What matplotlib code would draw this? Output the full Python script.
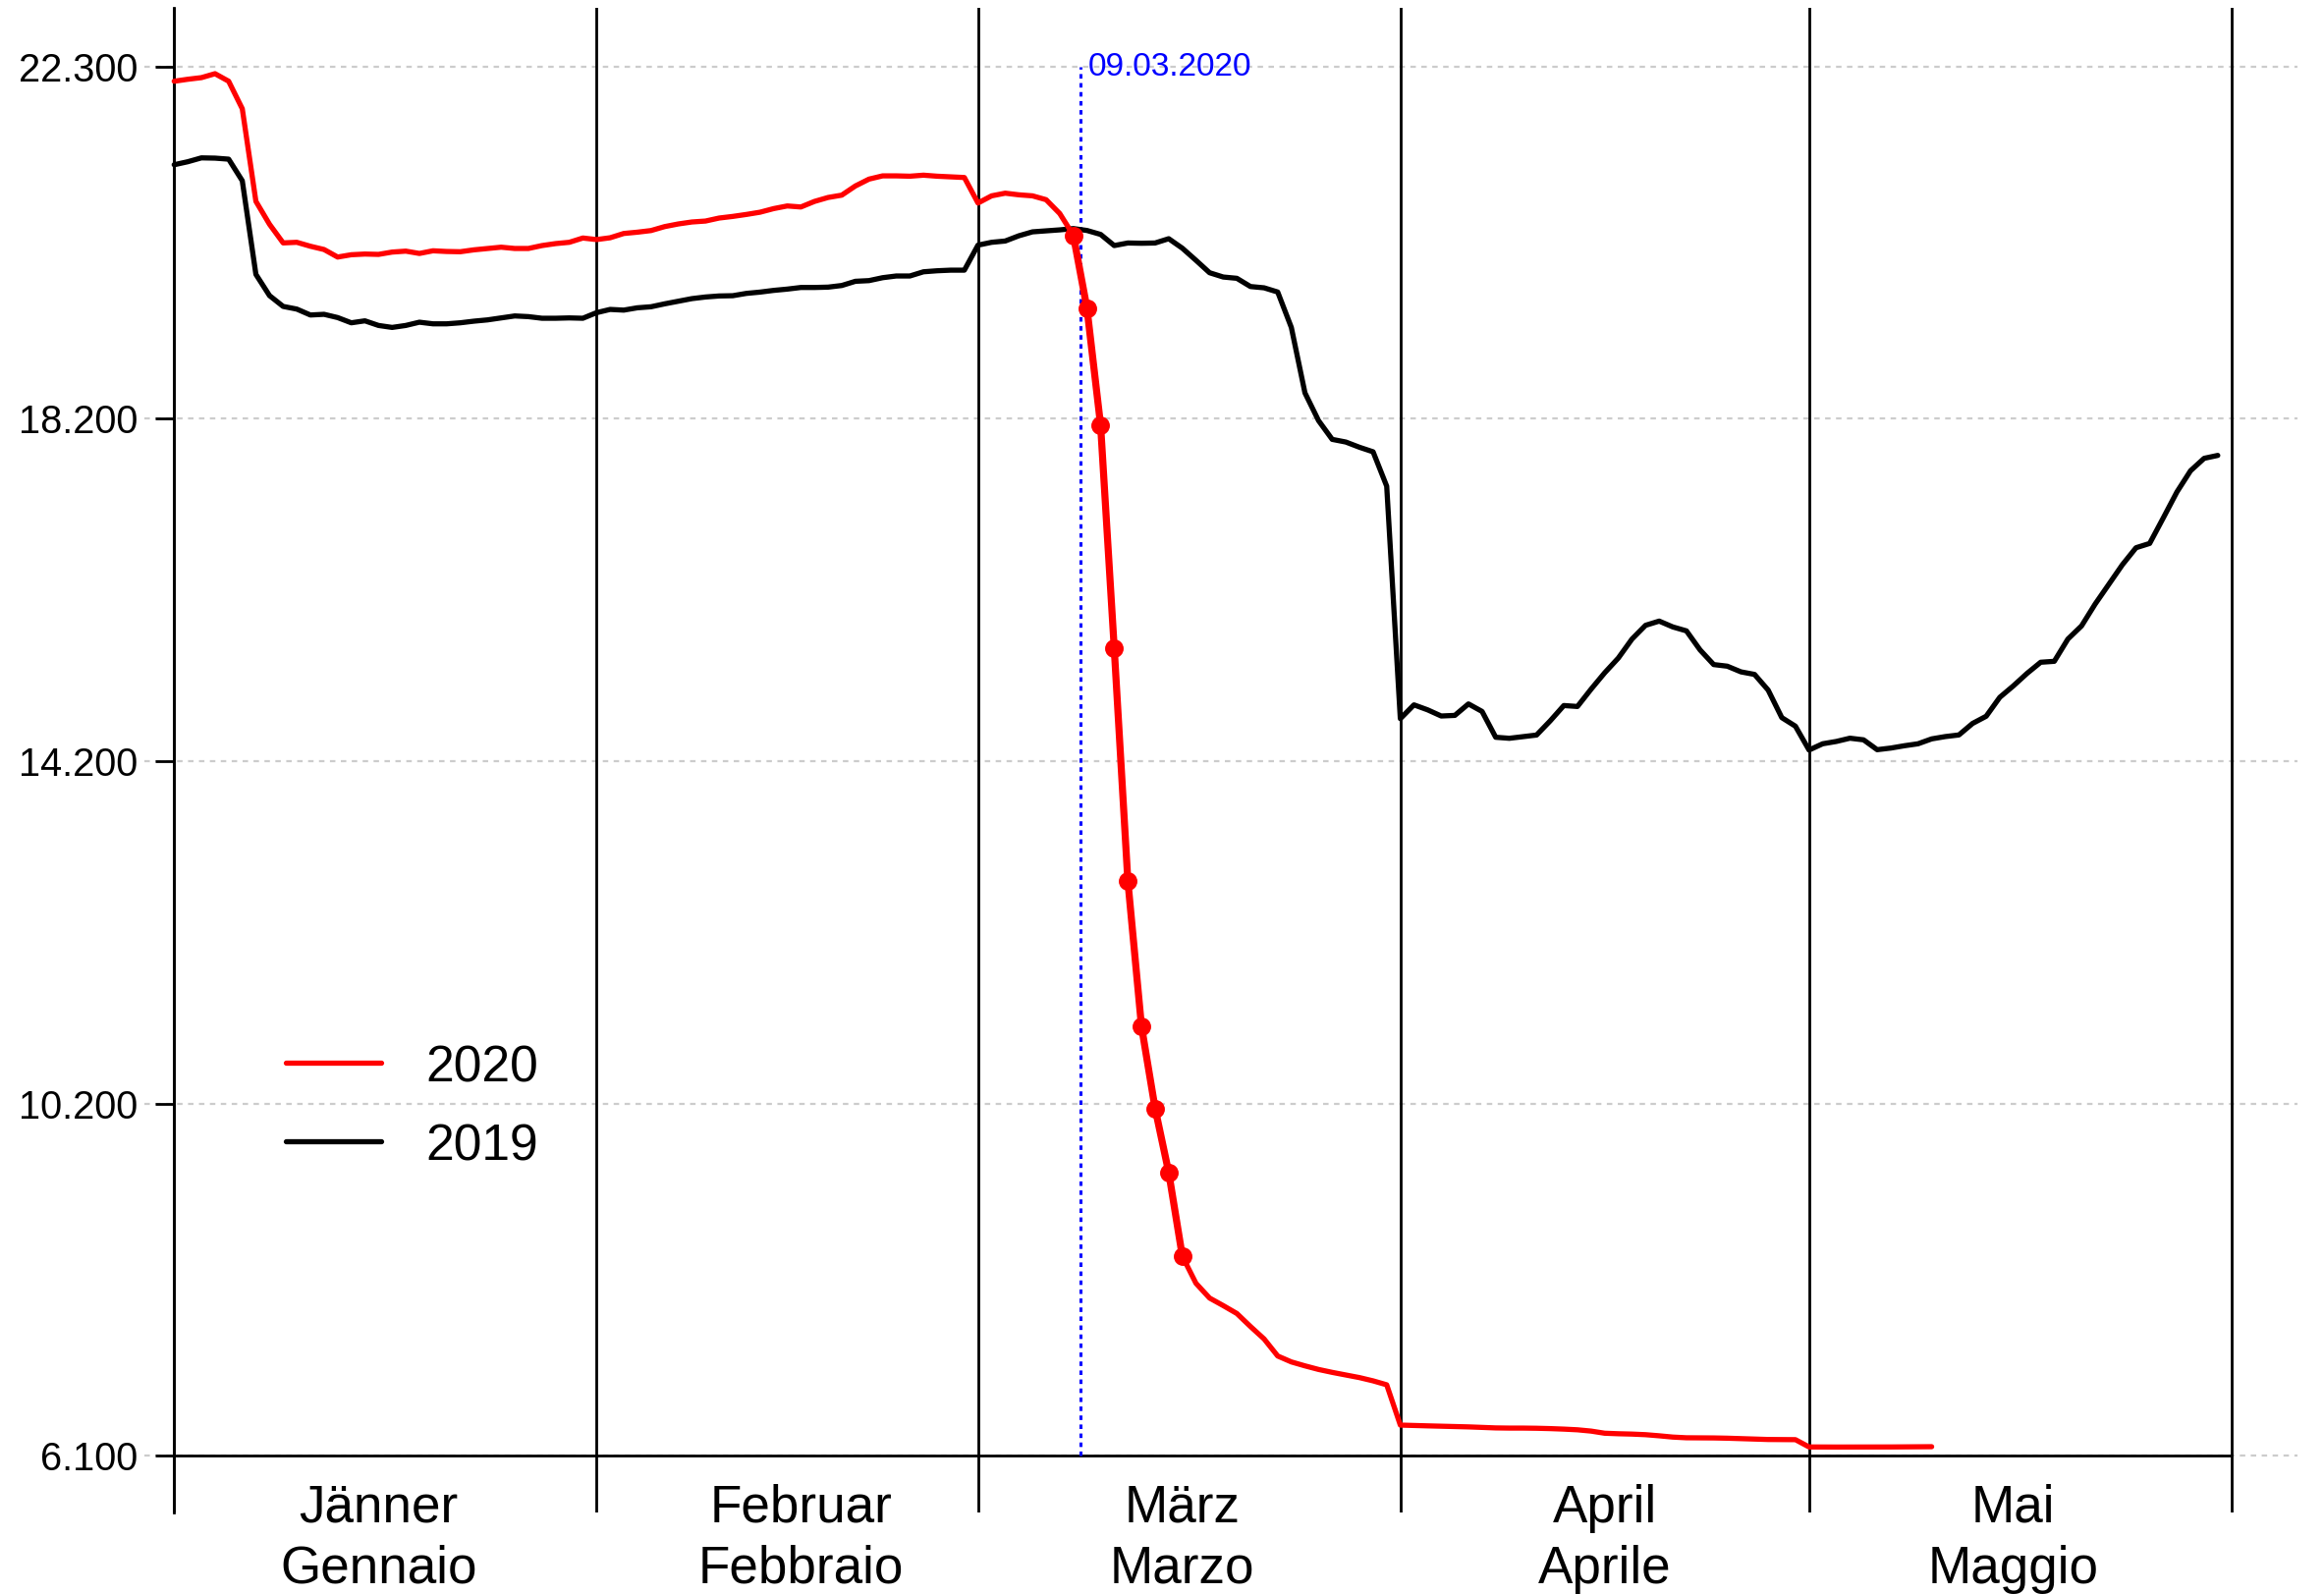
import numpy as np
import matplotlib
matplotlib.use('Agg')
import matplotlib.pyplot as plt
from matplotlib.lines import Line2D
import matplotlib.transforms as mtransforms

plt.rcParams['font.family'] = ['Liberation Sans', 'DejaVu Sans']

# ---------------- data ----------------
months_de = ["Jänner", "Februar", "März", "April", "Mai"]
months_it = ["Gennaio", "Febbraio", "Marzo", "Aprile", "Maggio"]
month_bounds = [0, 31, 59, 90, 120, 151]   # day index of month starts
label_day_offset = 15                       # labels sit at the 16th of each month

yticks = [6100, 10200, 14200, 18200, 22300]
ytick_labels = ["6.100", "10.200", "14.200", "18.200", "22.300"]

event_day = 66.5
event_label = "09.03.2020"
highlight_start, highlight_end = 66, 74

values_2019 = [
    # Jan
    21158, 21193, 21238, 21235, 21223, 20971, 19879, 19631, 19505, 19474, 19405,
    19413, 19375, 19314, 19337, 19283, 19260, 19283, 19321, 19302, 19302, 19314,
    19333, 19348, 19371, 19394, 19386, 19367, 19367, 19371, 19367,
    # Feb
    19432, 19470, 19462, 19489, 19501, 19535, 19566, 19596, 19615, 19627, 19630,
    19657, 19672, 19692, 19707, 19726, 19726, 19730, 19749, 19798, 19806, 19840,
    19860, 19860, 19909, 19921, 19928, 19928,
    # Mar
    20220, 20253, 20268, 20329, 20375, 20387, 20398, 20413, 20391, 20345, 20215,
    20245, 20242, 20245, 20295, 20184, 20043, 19898, 19848, 19833, 19737, 19722,
    19673, 19260, 18496, 18172, 17954, 17923, 17862, 17809, 17408,
    # Apr
    14696, 14857, 14799, 14727, 14734, 14868, 14780, 14479, 14467, 14486, 14505,
    14670, 14849, 14838, 15040, 15231, 15403, 15624, 15785, 15834, 15766, 15720,
    15498, 15327, 15308, 15242, 15212, 15029, 14708, 14608,
    # May
    14330, 14403, 14430, 14468, 14449, 14334, 14353, 14380, 14403, 14460, 14487,
    14506, 14640, 14724, 14945, 15079, 15224, 15354, 15365, 15625, 15778, 16033,
    16263, 16492, 16690, 16740, 17038, 17340, 17588, 17733, 17767,
]

values_2020 = [
    # Jan
    22132, 22155, 22174, 22220, 22132, 21811, 20731, 20463, 20246, 20253, 20207,
    20169, 20081, 20108, 20116, 20112, 20139, 20150, 20123, 20154, 20146, 20143,
    20165, 20181, 20196, 20181, 20181, 20215, 20238, 20253, 20303,
    # Feb
    20285, 20306, 20356, 20371, 20390, 20436, 20467, 20490, 20501, 20536, 20555,
    20578, 20604, 20646, 20677, 20665, 20730, 20776, 20803, 20910, 20990, 21028,
    21028, 21024, 21036, 21024, 21017, 21009,
    # Mar
    20711, 20795, 20826, 20807, 20795, 20750, 20589, 20335, 19484, 18119, 15520,
    12806, 11108, 10150, 9402, 8425, 8109, 7937, 7849, 7757, 7605, 7460,
    7261, 7192, 7146, 7104, 7070, 7039, 7009, 6971, 6925,
    # Apr
    6455, 6450, 6446, 6442, 6438, 6434, 6428, 6422, 6420, 6420, 6418,
    6414, 6408, 6400, 6385, 6360, 6354, 6350, 6343, 6330, 6315, 6307,
    6306, 6305, 6302, 6297, 6292, 6287, 6286, 6285,
    # May
    6200, 6199, 6199, 6199, 6199, 6200, 6200, 6201, 6202, 6203,
]

days_2019 = np.arange(len(values_2019))
days_2020 = np.arange(len(values_2020))

# ---------------- figure ----------------
W, H, DPI = 2366, 1623, 200
fig = plt.figure(figsize=(W / DPI, H / DPI), dpi=DPI)


def fx(px):
    return px / W


def fy(py):
    return 1 - py / H


ax = fig.add_axes([fx(147), fy(1540), fx(2339) - fx(147), fy(8) - fy(1540)])
ax.set_xlim(-2.185, 155.85)
ax.set_ylim(5435.5, 22988)

for s in ['top', 'right', 'bottom']:
    ax.spines[s].set_visible(False)
ax.spines['left'].set_position(('data', 0))
ax.spines['left'].set_linewidth(1.0)

ax.set_xticks([])
ax.set_yticks(yticks)
ax.set_yticklabels(ytick_labels, fontsize=14.3)
ax.tick_params(axis='y', length=6.8, width=1.0, pad=6.5, direction='out')

# grid lines
for v in yticks:
    ax.axhline(v, color='#cccccc', lw=0.8, ls=(0, (2.5, 2.5)), zorder=0)

# month separators and x-axis line
for b in month_bounds:
    ax.axvline(b, color='black', lw=1.0, zorder=1)
ax.hlines(yticks[0], month_bounds[0], month_bounds[-1], colors='black', lw=1.0, zorder=1)

# event line
ax.vlines(event_day, yticks[0], yticks[-1], colors='blue', lw=1.1,
          linestyles=[(0, (1.5, 1.5))], zorder=2)
ax.annotate(event_label, (event_day, yticks[-1]), xytext=(2.9, 0),
            textcoords='offset points', color='blue', fontsize=12.0,
            ha='left', va='center')

# data lines
ax.plot(days_2019, values_2019, color='black', lw=1.9, zorder=3,
        solid_capstyle='round', solid_joinstyle='round')
ax.plot(days_2020, values_2020, color='red', lw=1.9, zorder=4,
        solid_capstyle='round', solid_joinstyle='round')
hs = slice(highlight_start, highlight_end + 1)
ax.plot(days_2020[hs], values_2020[hs], color='red', lw=2.6, zorder=5,
        marker='o', markersize=5.8, solid_capstyle='round', solid_joinstyle='round')

# month labels
trans = mtransforms.blended_transform_factory(ax.transData, fig.transFigure)
for i in range(len(months_de)):
    c = month_bounds[i] + label_day_offset
    ax.text(c, fy(1550), months_de[i], transform=trans, ha='center',
            va='baseline', fontsize=19.1)
    ax.text(c, fy(1612), months_it[i], transform=trans, ha='center',
            va='baseline', fontsize=19.1)

# legend
for label, color, ly, by in [("2020", 'red', 1082, 1102), ("2019", 'black', 1162, 1182)]:
    fig.add_artist(Line2D([fx(291), fx(388)], [fy(ly), fy(ly)],
                          transform=fig.transFigure, color=color, lw=1.9,
                          solid_capstyle='round'))
    fig.text(fx(433), fy(by), label, fontsize=18.6, ha='left', va='baseline')

fig.savefig('out.png', dpi=DPI)
